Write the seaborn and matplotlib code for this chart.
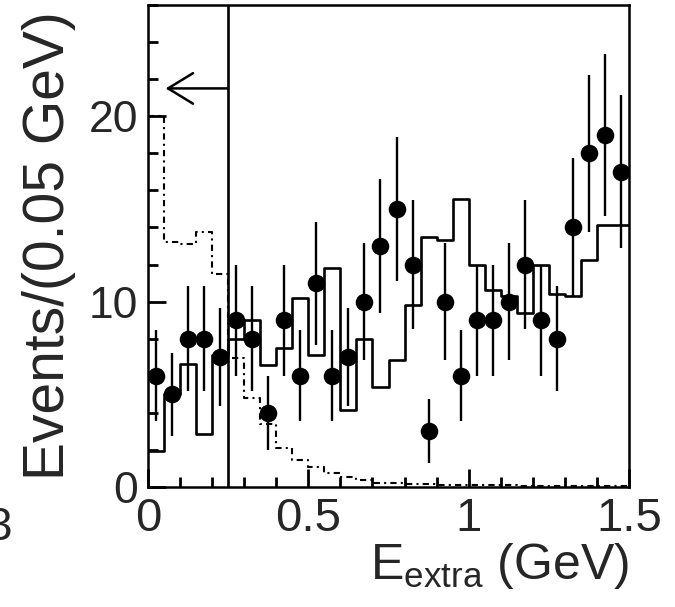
import numpy as np
import pandas as pd
import matplotlib
matplotlib.use("Agg")
import matplotlib.pyplot as plt
import seaborn as sns
from matplotlib.ticker import MultipleLocator

# ---- data ----
bin_edges = [round(0.05 * i, 2) for i in range(31)]
bin_centers = [round(0.025 + 0.05 * i, 3) for i in range(30)]

data_counts = [6, 5, 8, 8, 7, 9, 8, 4, 9, 6,
               11, 6, 7, 10, 13, 15, 12, 3, 10, 6,
               9, 9, 10, 12, 9, 8, 14, 18, 19, 17]

bkg_mc = [1.95, 5.0, 6.65, 2.85, 7.1, 8.0, 9.0, 6.6, 7.5, 10.2,
          7.1, 11.8, 4.15, 8.0, 5.4, 6.85, 9.8, 13.5, 13.3, 15.55,
          12.0, 10.6, 10.3, 9.4, 12.0, 10.4, 10.3, 12.25, 14.15, 14.15]

sig_mc = [20.0, 13.2, 13.1, 13.75, 11.5, 6.95, 4.8, 3.4, 2.13, 1.48,
          1.08, 0.78, 0.54, 0.36, 0.24, 0.2, 0.17, 0.15, 0.13, 0.12,
          0.1, 0.1, 0.09, 0.08, 0.08, 0.07, 0.07, 0.06, 0.06, 0.05]

cut_value = 0.25
arrow_y = 21.5
arrow_tip = 0.055

x_ticks = [0, 0.5, 1, 1.5]
x_ticklabels = ["0", "0.5", "1", "1.5"]
y_ticks = [0, 10, 20]
y_ticklabels = ["0", "10", "20"]

df = pd.DataFrame({"E": bin_centers, "data": data_counts,
                   "bkg": bkg_mc, "sig": sig_mc})
df["err"] = np.sqrt(df["data"])

# ---- figure ----
sns.set_theme(style="ticks")
plt.rcParams["font.family"] = ["Liberation Sans", "DejaVu Sans"]
plt.rcParams["mathtext.fontset"] = "custom"
plt.rcParams["mathtext.rm"] = "Liberation Sans"
plt.rcParams["mathtext.it"] = "Liberation Sans"

fig = plt.figure(figsize=(6.75, 6.07), dpi=100)
ax = fig.add_axes([148 / 675, 120 / 607, 481 / 675, 482 / 607])

lw = 1.9
sns.histplot(data=df, x="E", weights="bkg", bins=bin_edges, element="step",
             fill=False, color="black", linewidth=lw, ax=ax)
sns.histplot(data=df, x="E", weights="sig", bins=bin_edges, element="step",
             fill=False, color="black", linewidth=1.5,
             linestyle=(0, (3, 2, 1, 2)), ax=ax)

ax.errorbar(df["E"], df["data"], yerr=df["err"], fmt="none",
            ecolor="black", elinewidth=1.7, capsize=0, zorder=4)
sns.scatterplot(data=df, x="E", y="data", color="black", s=160,
                marker="o", edgecolor="black", linewidth=0, zorder=5, ax=ax)

ax.axvline(cut_value, color="black", linewidth=1.9, zorder=3)
ax.annotate("", xy=(arrow_tip, arrow_y), xytext=(cut_value, arrow_y),
            arrowprops=dict(arrowstyle="->,head_length=0.9,head_width=0.55",
                            color="black", lw=1.8, shrinkA=0, shrinkB=0,
                            mutation_scale=20))

ax.set_xlim(0, 1.5)
ax.set_ylim(0, 26)
ax.set_xticks(x_ticks)
ax.set_xticklabels(x_ticklabels)
ax.set_yticks(y_ticks)
ax.set_yticklabels(y_ticklabels)
ax.xaxis.set_minor_locator(MultipleLocator(0.1))
ax.yaxis.set_minor_locator(MultipleLocator(2))
ax.tick_params(axis="both", which="both", direction="in", color="black",
               top=False, right=False)
ax.tick_params(axis="both", which="major", length=13, width=2.0)
ax.tick_params(axis="both", which="minor", length=7, width=2.0)
ax.tick_params(axis="y", which="major", labelsize=32, pad=7)
ax.tick_params(axis="x", which="major", labelsize=34, pad=7)

for sp in ax.spines.values():
    sp.set_visible(True)
    sp.set_linewidth(1.8)
    sp.set_color("black")

ax.set_ylabel("Events/(0.05 GeV)", fontsize=41)
ax.yaxis.set_label_coords(-0.15, 0.5)
ax.set_xlabel(r"$\mathregular{E_{extra}}$ (GeV)", fontsize=36)
ax.xaxis.set_label_coords(1.0, -0.112)
ax.xaxis.label.set_horizontalalignment("right")

fig.text(12 / 675, 1 - 540 / 607, "3", fontsize=33, ha="right", va="baseline")

fig.savefig("out.png", dpi=100)
